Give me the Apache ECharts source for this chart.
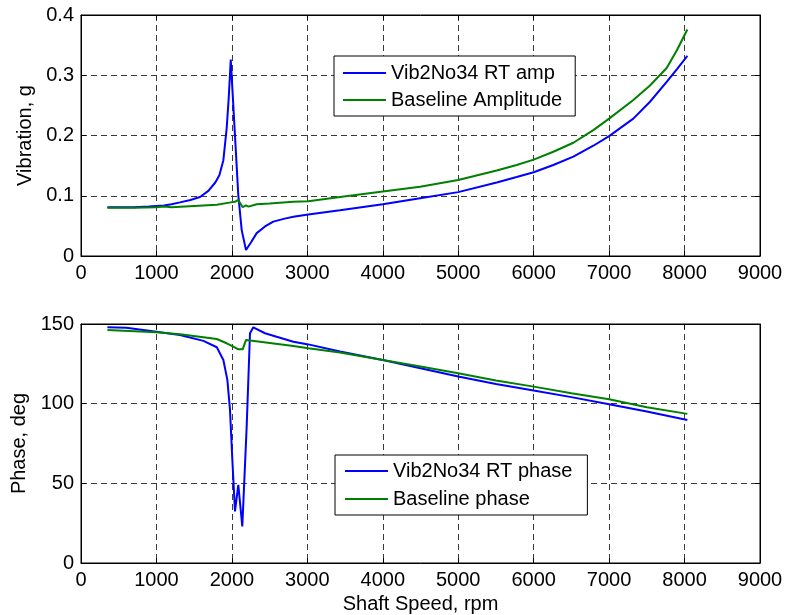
<!DOCTYPE html>
<html><head><meta charset="utf-8">
<script src="https://cdn.jsdelivr.net/npm/echarts@6/dist/echarts.min.js"></script>
<style>html,body{margin:0;padding:0;background:#fff}#c{width:786px;height:615px}</style>
</head><body><div id="c"></div>
<script>
// ---- data ----
const xTicks = [0, 9000, 1000];
const ampRpmBlue = [350, 500, 700, 900, 1000, 1100, 1200, 1312, 1450, 1578, 1688, 1780, 1834, 1887, 1931, 1958, 1985, 2085, 2130, 2187, 2250, 2329, 2439, 2549, 2700, 2815, 3013, 3433, 4000, 4494, 5000, 5510, 5775, 6000, 6261, 6526, 6791, 7000, 7321, 7542, 7763, 7900, 8037];
const ampBlue = [0.081, 0.081, 0.081, 0.082, 0.083, 0.084, 0.086, 0.089, 0.093, 0.098, 0.108, 0.122, 0.134, 0.159, 0.212, 0.262, 0.326, 0.101, 0.043, 0.010, 0.022, 0.038, 0.049, 0.057, 0.062, 0.065, 0.069, 0.076, 0.086, 0.096, 0.106, 0.122, 0.131, 0.139, 0.151, 0.165, 0.183, 0.199, 0.228, 0.256, 0.289, 0.310, 0.332];
const ampRpmGreen = [350, 700, 1000, 1100, 1200, 1500, 1800, 1985, 2040, 2085, 2143, 2187, 2220, 2329, 2500, 2815, 3013, 3433, 4000, 4494, 5000, 5510, 5775, 6000, 6261, 6526, 6791, 7000, 7321, 7542, 7763, 7900, 8037];
const ampGreen = [0.080, 0.080, 0.081, 0.082, 0.081, 0.083, 0.085, 0.089, 0.090, 0.093, 0.081, 0.084, 0.082, 0.086, 0.087, 0.090, 0.091, 0.098, 0.107, 0.115, 0.126, 0.142, 0.151, 0.160, 0.173, 0.188, 0.209, 0.228, 0.259, 0.283, 0.312, 0.342, 0.376];
const phRpmBlue = [350, 600, 1000, 1312, 1623, 1800, 1887, 1940, 1975, 2006, 2041, 2085, 2138, 2196, 2240, 2284, 2439, 2593, 2815, 3013, 3433, 4000, 4500, 5000, 5500, 6000, 6500, 7000, 7500, 8037];
const phBlue = [148.0, 147.6, 145.2, 143.1, 139.4, 135.4, 127.4, 114.9, 96.1, 64.8, 32.4, 49.1, 23.0, 85.6, 144.2, 147.9, 144.2, 142.0, 138.9, 137.2, 132.7, 127.4, 122.2, 117.0, 112.4, 108.2, 104.1, 99.7, 95.1, 89.8];
const phRpmGreen = [350, 1000, 1312, 1623, 1800, 1931, 2019, 2085, 2143, 2187, 2373, 2815, 3013, 3433, 4000, 4500, 5000, 5500, 6000, 6500, 7000, 7500, 8037];
const phGreen = [146.2, 144.8, 143.5, 141.7, 140.6, 137.9, 135.8, 134.1, 134.1, 140.0, 138.9, 136.2, 134.8, 132.1, 127.4, 123.3, 119.1, 114.5, 110.7, 106.6, 102.8, 97.8, 93.6];
const ampTicks = [0, 0.4, 0.1];
const phTicks = [0, 150, 50];
const names = ['Vib2No34 RT amp', 'Baseline Amplitude', 'Vib2No34 RT phase', 'Baseline phase'];

// ---- chart ----
const FONT = '"Liberation Sans", Arial, Helvetica, sans-serif';
const txt = {color: '#000', fontFamily: FONT, fontSize: 20};
const zip = (a, b) => a.map((v, i) => [v, b[i]]);
const fmt = v => String(Math.round(v * 1000) / 1000);
const grids = [
  {left: 81, top: 15, width: 679, height: 241, show: true, borderColor: '#000', borderWidth: 1},
  {left: 81, top: 324, width: 679, height: 239, show: true, borderColor: '#000', borderWidth: 1}
];
const gridLine = {show: true, lineStyle: {type: [6, 4], color: '#3a3a3a', width: 1}};
function xAx(g, pos, main, extra) {
  return Object.assign({
    gridIndex: g, type: 'value', min: xTicks[0], max: xTicks[1], interval: xTicks[2], position: pos,
    axisLine: {show: true, onZero: false, lineStyle: {color: '#000', width: 1}},
    axisTick: {show: true, inside: true, length: 5, lineStyle: {color: '#000'}},
    axisLabel: main ? Object.assign({margin: 7, formatter: fmt}, txt) : {show: false},
    splitLine: main ? gridLine : {show: false}
  }, extra || {});
}
function yAx(g, pos, main, t, extra) {
  return Object.assign({
    gridIndex: g, type: 'value', min: t[0], max: t[1], interval: t[2], position: pos,
    axisLine: {show: true, onZero: false, lineStyle: {color: '#000', width: 1}},
    axisTick: {show: true, inside: true, length: 5, lineStyle: {color: '#000'}},
    axisLabel: main ? Object.assign({margin: 7, formatter: fmt}, txt) : {show: false},
    splitLine: main ? gridLine : {show: false}
  }, extra || {});
}
function ser(name, xi, yi, data, color) {
  return {name, type: 'line', xAxisIndex: xi, yAxisIndex: yi, data, symbol: 'none', showSymbol: false,
    animation: false, lineStyle: {color, width: 2}, itemStyle: {color}};
}
const legBase = {orient: 'vertical', icon: 'rect', itemWidth: 43, itemHeight: 2, itemGap: 7,
  borderColor: '#000', borderWidth: 1, backgroundColor: '#fff', borderRadius: 0, textStyle: txt};
const chart = echarts.init(document.getElementById('c'), null, {renderer: 'canvas'});
chart.setOption({
  animation: false,
  backgroundColor: '#fff',
  grid: grids,
  xAxis: [
    xAx(0, 'bottom', true), xAx(0, 'top', false),
    xAx(1, 'bottom', true, {name: 'Shaft Speed, rpm', nameLocation: 'middle', nameGap: 31, nameTextStyle: txt}),
    xAx(1, 'top', false)
  ],
  yAxis: [
    yAx(0, 'left', true, ampTicks, {name: 'Vibration, g', nameLocation: 'middle', nameGap: 40, nameTextStyle: txt}),
    yAx(0, 'right', false, ampTicks),
    yAx(1, 'left', true, phTicks, {name: 'Phase, deg', nameLocation: 'middle', nameGap: 46, nameTextStyle: txt}),
    yAx(1, 'right', false, phTicks)
  ],
  legend: [
    Object.assign({}, legBase, {data: [names[0], names[1]], left: 334, top: 56, padding: [7, 13, 6, 9]}),
    Object.assign({}, legBase, {data: [names[2], names[3]], left: 335, top: 455, padding: [6, 15, 6, 10], itemGap: 8})
  ],
  series: [
    ser(names[0], 0, 0, zip(ampRpmBlue, ampBlue), '#0000ff'),
    ser(names[1], 0, 0, zip(ampRpmGreen, ampGreen), '#008000'),
    ser(names[2], 2, 2, zip(phRpmBlue, phBlue), '#0000ff'),
    ser(names[3], 2, 2, zip(phRpmGreen, phGreen), '#008000')
  ]
});
</script>
</body></html>
